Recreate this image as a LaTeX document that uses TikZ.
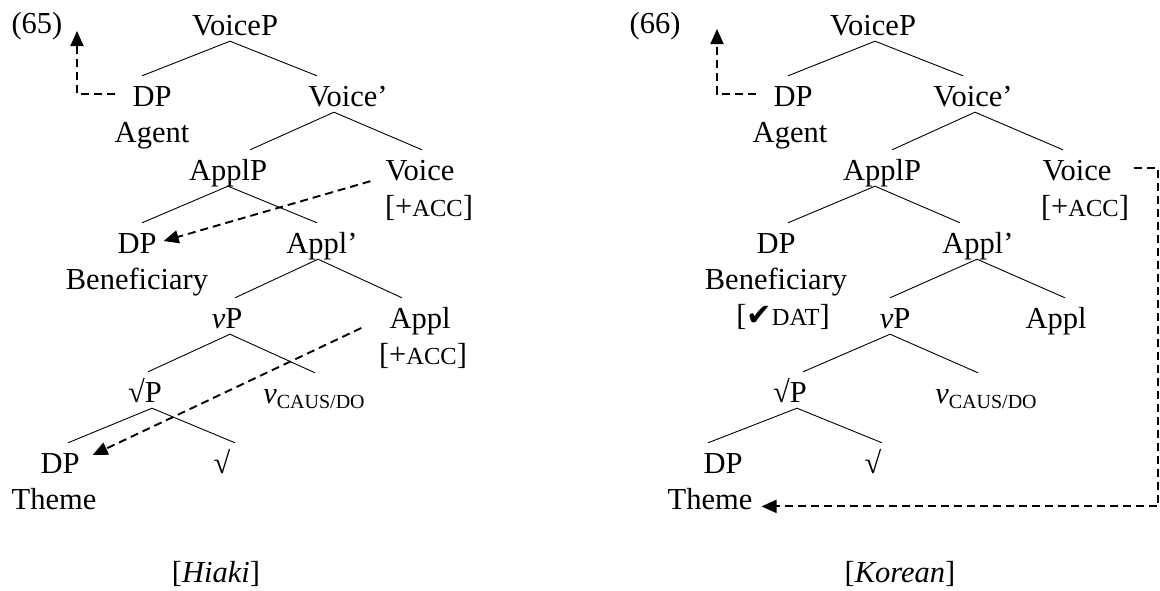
\documentclass[tikz,border=0pt]{standalone}
\usepackage{fontspec}
\setmainfont{Liberation Serif}
\newfontfamily\symfont{DejaVu Sans}
\usetikzlibrary{arrows.meta, positioning}
\newcommand{\fsc}[1]{{\fontsize{24.5}{24.5}\selectfont #1}}
\newcommand{\vsub}[1]{\textit{v}\raisebox{-5pt}{\fontsize{20}{20}\selectfont #1}}

\begin{document}
\begin{tikzpicture}[x=1pt, y=-1pt,
  lbl/.style={inner sep=3pt, text height=27pt, text depth=3pt, anchor=base, font=\fontsize{30.5}{36}\selectfont},
  sub/.style={inner sep=3pt, text height=27pt, text depth=3pt, font=\fontsize{30.5}{36}\selectfont},
  br/.style={line width=0.9pt},
  mv/.style={line width=1.9pt, dash pattern=on 8pt off 5pt, -{Triangle[length=15pt,width=13pt]}}]
\useasboundingbox (0,0) rectangle (1160,590);

% (65) Hiaki
\node[lbl] (exL) at (37,33) {(65)};
\node[lbl] (voicepL) at (235,35) {VoiceP};
\node[lbl] (agentdpL) at (152,106) {DP};
\node[sub, below=0pt of agentdpL] (agentL) {Agent};
\node[lbl] (voicebarL) at (348,106) {Voice'};
\node[lbl] (applpL) at (228,180) {ApplP};
\node[lbl] (voiceL) at (420,180) {Voice};
\node[sub, below=0pt of voiceL, xshift=9pt] (voiceaccL) {[+\fsc{ACC}]};
\node[lbl] (bendpL) at (137,253) {DP};
\node[sub, below=0pt of bendpL] (benL) {Beneficiary};
\node[lbl] (applbarL) at (322,253) {Appl'};
\node[lbl] (littlevpL) at (227,328) {\textit{v}P};
\node[lbl] (applL) at (420,328) {Appl};
\node[sub, below=0pt of applL, xshift=3pt] (applaccL) {[+\fsc{ACC}]};
\node[lbl] (rootpL) at (145,402) {√P};
\node[lbl] (littlevL) at (314,403) {\vsub{CAUS/DO}};
\node[lbl] (themedpL) at (60,473) {DP};
\node[sub, below=0pt of themedpL, xshift=-6pt] (themeL) {Theme};
\node[lbl] (rootL) at (222,473) {√};
\node[lbl] (langL) at (216,582) {[\textit{Hiaki}]};

\draw[br] ([xshift=-10pt]agentdpL.north) -- ([xshift=-5pt]voicepL.south) -- ([xshift=-31pt]voicebarL.north);
\draw[br] ([xshift=22pt]applpL.north) -- ([xshift=-14pt]voicebarL.south) -- ([xshift=2pt]voiceL.north);
\draw[br] ([xshift=5pt]bendpL.north) -- (applpL.south) -- ([xshift=-5pt]applbarL.north);
\draw[br] ([xshift=8pt]littlevpL.north) -- ([xshift=-4pt]applbarL.south) -- ([xshift=-18pt]applL.north);
\draw[br] ([xshift=3pt]rootpL.north) -- ([xshift=3pt]littlevpL.south) -- ([xshift=1pt]littlevL.north);
\draw[br] ([xshift=8pt]themedpL.north) -- ([xshift=7pt]rootpL.south) -- ([xshift=13pt]rootL.north);

\coordinate (upL) at (77,31);
\draw[mv] ([xshift=-14pt]agentdpL.west) -| (upL);
\draw[mv] ([xshift=-12pt,yshift=5pt]voiceL.south west) -- ([xshift=4pt]bendpL.east);
\draw[mv] ([xshift=-25pt]applL.base west) -- ([xshift=10pt,yshift=6pt]themedpL.east);

% (66) Korean
\node[lbl] (exR) at (655,33) {(66)};
\node[lbl] (voicepR) at (873,35) {VoiceP};
\node[lbl] (agentdpR) at (793,106) {DP};
\node[sub, below=0pt of agentdpR, xshift=-3pt] (agentR) {Agent};
\node[lbl] (voicebarR) at (973,106) {Voice'};
\node[lbl] (applpR) at (882,180) {ApplP};
\node[lbl] (voiceR) at (1077,180) {Voice};
\node[sub, below=0pt of voiceR, xshift=8pt] (voiceaccR) {[+\fsc{ACC}]};
\node[lbl] (bendpR) at (776,253) {DP};
\node[sub, below=0pt of bendpR] (benR) {Beneficiary};
\node[sub, below=0pt of benR, xshift=7pt] (datR) {[{\symfont ✔}\fsc{DAT}]};
\node[lbl] (applbarR) at (978,253) {Appl'};
\node[lbl] (littlevpR) at (895,328) {\textit{v}P};
\node[lbl] (applR) at (1056,328) {Appl};
\node[lbl] (rootpR) at (790,402) {√P};
\node[lbl] (littlevR) at (986,403) {\vsub{CAUS/DO}};
\node[lbl] (themedpR) at (723,473) {DP};
\node[sub, below=0pt of themedpR, xshift=-13pt] (themeR) {Theme};
\node[lbl] (rootR) at (873,473) {√};
\node[lbl] (langR) at (900,582) {[\textit{Korean}]};

\draw[br] ([xshift=-5pt]agentdpR.north) -- ([xshift=2pt]voicepR.south) -- ([xshift=-10pt]voicebarR.north);
\draw[br] ([xshift=10pt]applpR.north) -- ([xshift=2pt]voicebarR.south) -- ([xshift=-14pt]voiceR.north);
\draw[br] ([xshift=12pt]bendpR.north) -- ([xshift=-7pt]applpR.south) -- ([xshift=-18pt]applbarR.north);
\draw[br] ([xshift=-5pt]littlevpR.north) -- ([xshift=-1pt]applbarR.south) -- ([xshift=9pt]applR.north);
\draw[br] ([xshift=13pt]rootpR.north) -- ([xshift=-5pt]littlevpR.south) -- ([xshift=-8pt]littlevR.north);
\draw[br] ([xshift=-15pt]themedpR.north) -- ([xshift=7pt]rootpR.south) -- ([xshift=9pt]rootR.north);

\coordinate (upR) at (717,29);
\coordinate (rimR) at (1158,300);
\draw[mv] ([xshift=-14pt]agentdpR.west) -| (upR);
\draw[mv] ([xshift=19pt]voiceR.east) -| (rimR) |- ([xshift=6pt,yshift=3pt]themeR.base east);
\end{tikzpicture}
\end{document}
